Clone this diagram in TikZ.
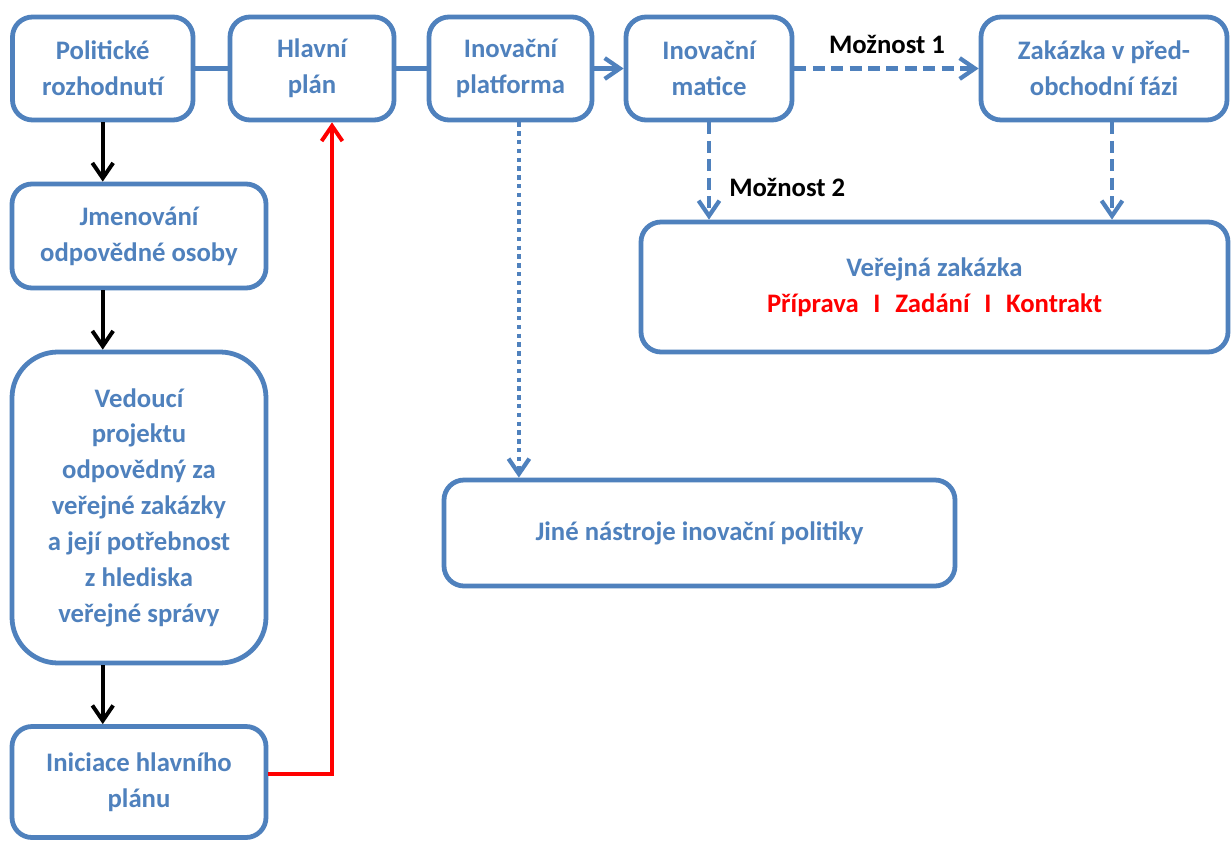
\documentclass[tikz,border=0pt]{standalone}
\usepackage{fontspec}
\setmainfont{Carlito}
\usetikzlibrary{arrows.meta}
\definecolor{ofblue}{HTML}{4F81BD}
\definecolor{ofred}{HTML}{FF0000}
\newcommand{\diagfont}{\fontsize{19}{25.5}\selectfont\bfseries}

\begin{document}
\begin{tikzpicture}[x=0.025cm, y=-0.025cm,
  box/.style={draw=ofblue, line width=3.4pt, rounded corners=0.5cm,
    text=ofblue, font=\diagfont, align=center, inner sep=0pt},
  wh/.style 2 args={minimum width=#1*0.025cm, minimum height=#2*0.025cm},
  lbl/.style={font=\diagfont, text=black, inner sep=0pt},
  link/.style={draw=ofblue, line width=3pt},
  barb/.style={-{Straight Barb[length=0.38cm, width=0.52cm]}},
  dashedlink/.style={link, barb, dash pattern=on 0.3cm off 0.16cm},
  dottedlink/.style={link, barb, dash pattern=on 0.11cm off 0.11cm},
  blackarrow/.style={draw=black, line width=2.8pt, barb},
  redarrow/.style={draw=ofred, line width=2.8pt, barb}]

% page area
\fill[white] (0,0) rectangle (1231,841);
\useasboundingbox (0,0) rectangle (1231,841);

% top row
\node[box, wh={180.5}{103}] (pol) at (102.75,68.5) {Politické\\rozhodnutí};
\node[box, wh={164}{103}] (hl) at (312,68.5) {Hlavní\\plán};
\node[box, wh={163}{103}] (pl) at (510.5,68.5) {Inovační\\platforma};
\node[box, wh={166}{103}] (mat) at (709,68.5) {Inovační\\matice};
\node[box, wh={246}{103}] (zak) at (1104,68.5) {Zakázka v před-\\obchodní fázi};

% left column
\node[box, wh={254}{104}] (jm) at (139,236) {Jmenování\\odpovědné osoby};
\node[box, wh={254}{311}, rounded corners=1.15cm] (ved) at (139,507.5)
  {Vedoucí\\projektu\\odpovědný za\\veřejné zakázky\\a její potřebnost\\z hlediska\\veřejné správy};
\node[box, wh={254}{111}] (ini) at (139,782) {Iniciace hlavního\\plánu};

% right part
\node[box, wh={587}{130}] (vz) at (934.5,287)
  {Veřejná zakázka\\\textcolor{ofred}{Příprava\hspace{0.55em}I\hspace{0.55em}Zadání\hspace{0.55em}I\hspace{0.55em}Kontrakt}};
\node[box, wh={511}{106}] (jn) at (699.5,533) {Jiné nástroje inovační politiky};

% option labels
\node[lbl] (m1) at (887,44) {Možnost 1};
\node[lbl, anchor=west] (m2) at (729,187) {Možnost 2};

% helper points for offset connectors
\coordinate (pd) at ([xshift=0.21cm]pl.south);
\coordinate (zd) at ([xshift=0.2cm]zak.south);
\coordinate (rs) at ([yshift=0.2cm]ini.east);
\coordinate (rt) at ([xshift=0.5cm]hl.south);

% top row links
\draw[link] (pol.east) -- (hl.west);
\draw[link] (hl.east) -- (pl.west);
\draw[link, barb] (pl.east) -- (mat.west);
\draw[dashedlink] (mat.east) -- (zak.west);

% options down to the public contract
\draw[dashedlink] (mat.south) -- (mat.south |- vz.north);
\draw[dashedlink] (zd) -- (zd |- vz.north);

% other instruments
\draw[dottedlink] (pd) -- (pd |- jn.north);

% left column flow
\draw[blackarrow] (pol.south) -- (pol.south |- jm.north);
\draw[blackarrow] (jm.south -| pol.south) -- (pol.south |- ved.north);
\draw[blackarrow] (ved.south -| pol.south) -- (pol.south |- ini.north);

% back to the main plan
\draw[redarrow] (rs) -| (rt);
\end{tikzpicture}
\end{document}
